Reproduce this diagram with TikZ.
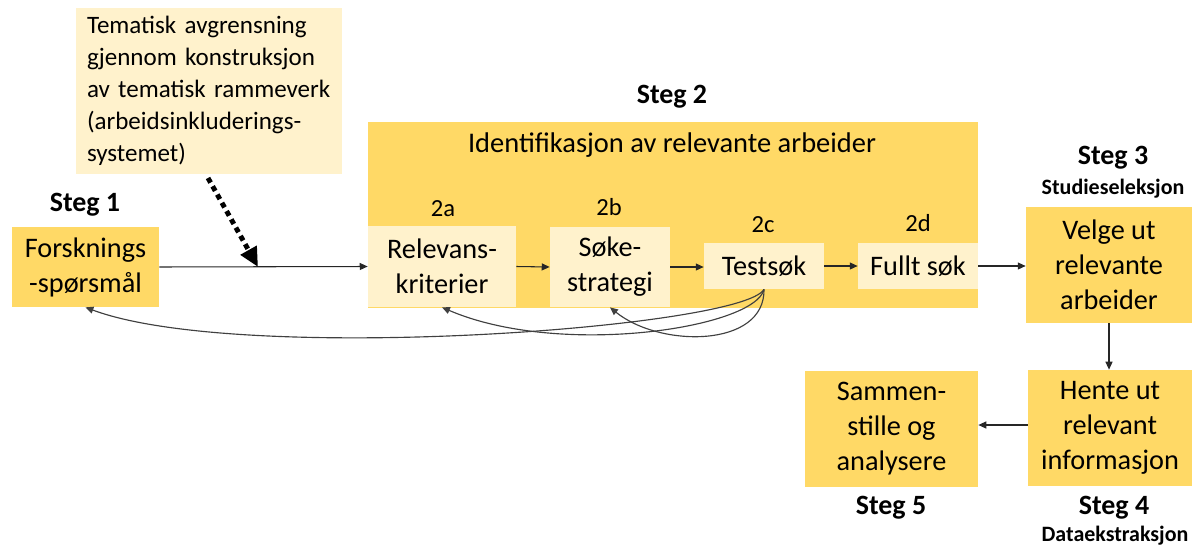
\documentclass[tikz,border=0pt]{standalone}
\usepackage{fontspec}
\setmainfont{Carlito}
\usetikzlibrary{arrows.meta}
\definecolor{dark}{RGB}{255,217,102}
\definecolor{light}{RGB}{255,242,204}
\begin{document}
\begin{tikzpicture}[x=0.02cm,y=-0.02cm,
  box/.style={fill=#1, inner sep=0pt, align=center, text=black,
    font=\fontsize{16.1}{19.9}\selectfont},
  sz/.style args={#1/#2}{minimum width=#1*0.02cm, minimum height=#2*0.02cm},
  steg/.style={inner sep=0pt, font=\fontsize{15.9}{19}\selectfont\bfseries},
  sub/.style={inner sep=0pt, font=\fontsize{12.5}{15}\selectfont\bfseries},
  lab/.style={inner sep=0pt, font=\fontsize{14}{16}\selectfont},
  arr/.style={line width=0.6pt, draw=black!85, -{Triangle[length=4.5pt,width=4pt]}},
  carr/.style={line width=0.65pt, draw=black!75, -{Triangle[length=4.5pt,width=4pt]}},
  dasharr/.style={line width=2.8pt, dash pattern=on 3pt off 2.4pt, -{Triangle[length=11pt,width=10pt]}}
]
\useasboundingbox (0,0) rectangle (1192,544);

% boxes
\node[box=light, sz=266/166, text width=5.0cm, align=left, inner xsep=0.16cm,
  font=\fontsize{14.25}{18.2}\selectfont] (tem) at (209,91)
  {\hspace*{0.06cm}Tematisk avgrensning\\\hspace*{0.06cm}gjennom konstruksjon\\\hspace*{0.06cm}av tematisk rammeverk\\\hspace*{0.06cm}(arbeidsinkluderings-\\\hspace*{0.06cm}systemet)};
\node[box=dark, sz=147/80] (f) at (85.5,267) {Forsknings\\-spørsmål};
\node[box=dark, sz=610/186] (big) at (673,215) {};
\node[box=light, sz=148/81] (rel) at (442,266.5) {Relevans-\\kriterier};
\node[box=light, sz=120/80] (sok) at (610,267) {Søke-\\strategi};
\node[box=light, sz=120/46] (test) at (764,266) {Testsøk};
\node[box=light, sz=120/46] (full) at (918,266) {Fullt søk};
\node[box=dark, sz=166/116] (velge) at (1109,265) {Velge ut\\relevante\\arbeider};
\node[box=dark, sz=164/116] (hente) at (1110,428) {Hente ut\\relevant\\informasjon};
\node[box=dark, sz=173/116] (sammen) at (891.5,429) {Sammen-\\stille og\\analysere};

% labels
\node[steg] (s1) at (85,205) {Steg 1};
\node[steg] (s2) at (672,97) {Steg 2};
\node[inner sep=0pt, font=\fontsize{16.2}{19}\selectfont] (ident) at (672,145) {Identifikasjon av relevante arbeider};
\node[lab] (l2a) at (443,209) {2a};
\node[lab] (l2b) at (609,207) {2b};
\node[lab] (l2c) at (763,225) {2c};
\node[lab] (l2d) at (918,223) {2d};
\node[steg] (s3) at (1113,158) {Steg 3};
\node[sub] (stud) at (1113,189) {Studieseleksjon};
\node[steg] (s5) at (891,508) {Steg 5};
\node[steg] (s4) at (1114,508) {Steg 4};
\node[sub] (data) at (1115,536) {Dataekstraksjon};

% connectors
\coordinate (ds) at (208,178);
\coordinate (dm) at (258,267);
\draw[arr] (f.east) -- (rel.west);
\draw[dasharr] (ds) -- (dm);
\draw[arr] (rel.east) -- (sok.west);
\draw[arr] (sok.east) -- (test.west |- sok.east);
\draw[arr] (test.east) -- (full.west);
\draw[arr] (full.east) -- (velge.west |- full.east);
\draw[arr] (velge.south) -- (velge.south |- hente.north);
\draw[arr] (hente.west |- 0,425) -- (sammen.east |- 0,425);

\draw[carr] (test.south) .. controls (742,328) and (240,365) .. (f.south);
\draw[carr] (test.south) .. controls (755,328) and (560,358) .. (rel.south);
\draw[carr] (test.south) .. controls (765,348) and (660,348) .. (sok.south);
\end{tikzpicture}
\end{document}
